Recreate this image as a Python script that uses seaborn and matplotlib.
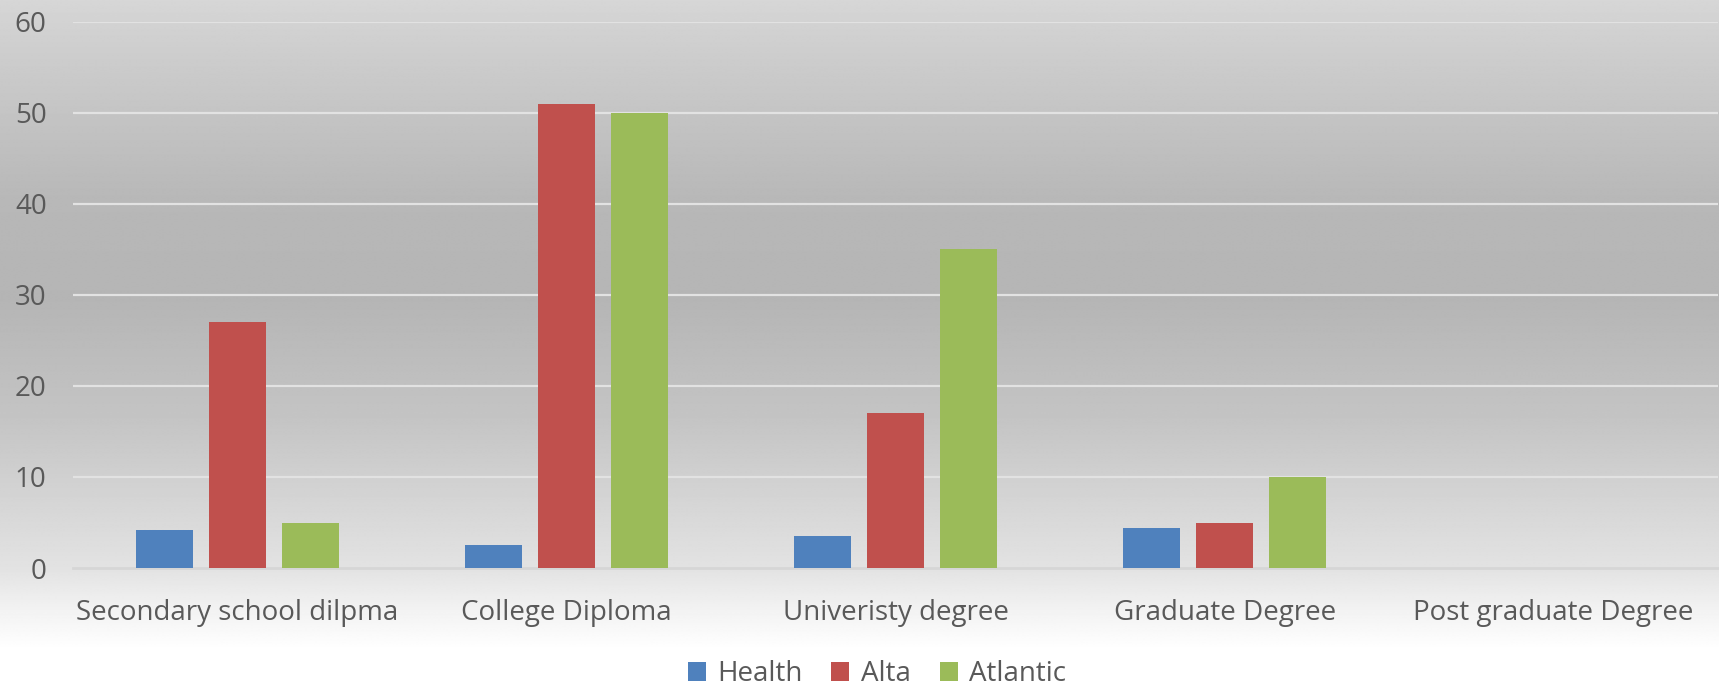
import numpy as np
import pandas as pd
import matplotlib
matplotlib.use("Agg")
import matplotlib.pyplot as plt
import seaborn as sns

# Education level categories and survey counts per group
categories = ["Secondary school dilpma", "College Diploma", "Univeristy degree",
              "Graduate Degree", "Post graduate Degree"]
groups = ["Health", "Alta", "Atlantic"]
health = [4.2, 2.5, 3.5, 4.4, 0]
alta = [27, 51, 17, 5, 0]
atlantic = [5, 50, 35, 10, 0]
yticks = [0, 10, 20, 30, 40, 50, 60]

colors = ["#4f81bd", "#c0504d", "#9bbb59"]
text_color = "#595959"

df = pd.DataFrame({
    "category": categories * 3,
    "group": [g for g in groups for _ in categories],
    "value": health + alta + atlantic,
})

sns.set_theme(style="white")
plt.rcParams["font.family"] = ["Open Sans", "DejaVu Sans"]

fig = plt.figure(figsize=(17.19, 6.86), dpi=100)

# Soft vertical grey gradient behind the whole chart
bg = fig.add_axes([0, 0, 1, 1], zorder=-10)
ys = np.array([0, 60, 200, 300, 420, 520, 570, 610, 650, 686]) / 686
gs = np.array([0.84, 0.80, 0.72, 0.71, 0.77, 0.85, 0.89, 0.95, 1.0, 1.0])
yy = np.linspace(0, 1, 600)
col = np.interp(yy, ys, gs)
img = np.repeat(col[:, None], 4, axis=1)
bg.imshow(img, cmap="gray", vmin=0, vmax=1, aspect="auto",
          extent=[0, 1, 1, 0], interpolation="bilinear")
bg.set_xlim(0, 1)
bg.set_ylim(1, 0)
bg.axis("off")

ax = fig.add_axes([0.0425, 0.172, 0.957, 0.796])
ax.patch.set_alpha(0)

sns.barplot(data=df, x="category", y="value", hue="group", order=categories,
            hue_order=groups, palette=colors, width=0.665, gap=0.22,
            saturation=1, ax=ax, legend=True, zorder=3, linewidth=0)

ax.set_xlim(-0.5, len(categories) - 0.5)
ax.set_ylim(0, 60)
ax.set_yticks(yticks)
ax.set_xlabel("")
ax.set_ylabel("")
ax.yaxis.grid(True, color="#e2e2e2", linewidth=1.6, zorder=0)
ax.set_axisbelow(True)
for s in ["top", "right", "left"]:
    ax.spines[s].set_visible(False)
ax.spines["bottom"].set_color("#d6d6d6")
ax.spines["bottom"].set_linewidth(2)
ax.tick_params(axis="y", length=0, pad=19, labelsize=20, labelcolor=text_color)
ax.tick_params(axis="x", length=0, pad=22.5, labelsize=20, labelcolor=text_color)

leg = ax.legend(loc="center", bbox_to_anchor=(0.510, 0.017),
                bbox_transform=fig.transFigure, ncol=3, frameon=False,
                fontsize=20, handlelength=0.65, handleheight=0.65,
                handletextpad=0.4, columnspacing=1.05)
for t in leg.get_texts():
    t.set_color(text_color)

fig.savefig("out.png", dpi=100)
